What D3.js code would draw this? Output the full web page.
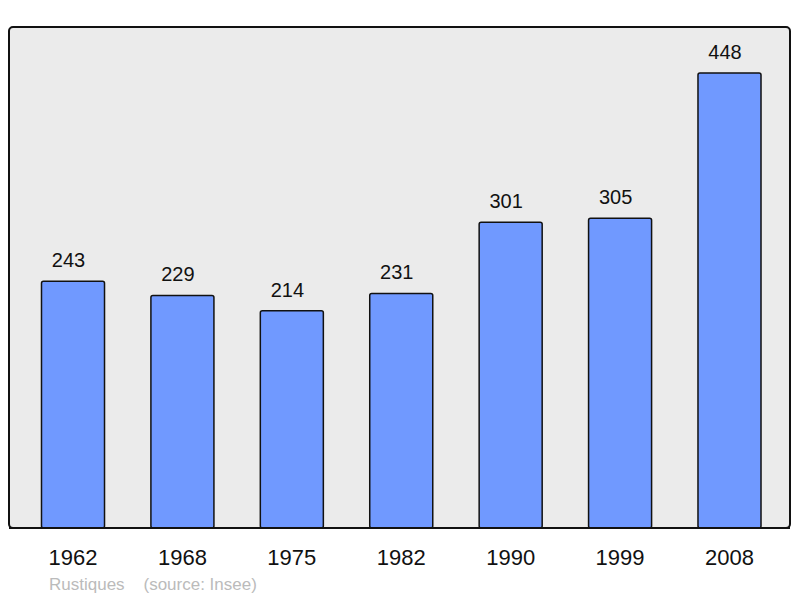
<!DOCTYPE html>
<html><head><meta charset="utf-8">
<script src="https://cdn.jsdelivr.net/npm/d3@7"></script>
<style>body{margin:0;background:#fff}svg{display:block}text{font-family:"Liberation Sans",Arial,sans-serif}</style>
</head><body>
<svg id="c" width="800" height="598"></svg>
<script>
const years = ["1962","1968","1975","1982","1990","1999","2008"];
const population = [243,229,214,231,301,305,448];
const sourceText = "Rustiques    (source: Insee)";

const svg = d3.select("#c");
const panel = {x:9, y:27, w:781, h:501};
const x = d3.scaleBand().domain(years).range([18.3,784.2]).paddingInner(0.424).paddingOuter(0.212);
const y = d3.scaleLinear().domain([0,448]).range([528,73]);

svg.append("rect").attr("x",panel.x).attr("y",panel.y).attr("width",panel.w).attr("height",panel.h)
  .attr("rx",4).attr("fill","#ebebeb").attr("stroke","#111").attr("stroke-width",2);

const g = svg.append("g");
g.selectAll("rect.bar").data(population).join("rect").attr("class","bar")
  .attr("x",(d,i)=>x(years[i])).attr("width",x.bandwidth())
  .attr("y",d=>y(d)).attr("height",d=>y(0)-y(d))
  .attr("rx",2).attr("fill","#7099ff").attr("stroke","#111").attr("stroke-width",1.5);

g.selectAll("text.val").data(population).join("text").attr("class","val")
  .attr("x",(d,i)=>x(years[i])+x.bandwidth()/2-4.5).attr("y",d=>y(d)-14)
  .attr("text-anchor","middle").attr("font-size",20).attr("fill","#111").text(d=>d);

svg.append("line").attr("x1",panel.x).attr("x2",panel.x+panel.w).attr("y1",528).attr("y2",528)
  .attr("stroke","#111").attr("stroke-width",2);

const xAxis = d3.axisBottom(x).tickSize(0).tickPadding(0);
const ax = svg.append("g").attr("transform","translate(0,565)").call(xAxis);
ax.select(".domain").remove();
ax.selectAll("text").attr("dy",0).attr("font-size",22).attr("fill","#111").style("font-family","Liberation Sans, Arial, sans-serif");

svg.append("text").attr("x",49).attr("y",590).attr("font-size",17).attr("fill","#bbbbbb")
  .attr("xml:space","preserve").style("white-space","pre").text(sourceText);
</script>
</body></html>
